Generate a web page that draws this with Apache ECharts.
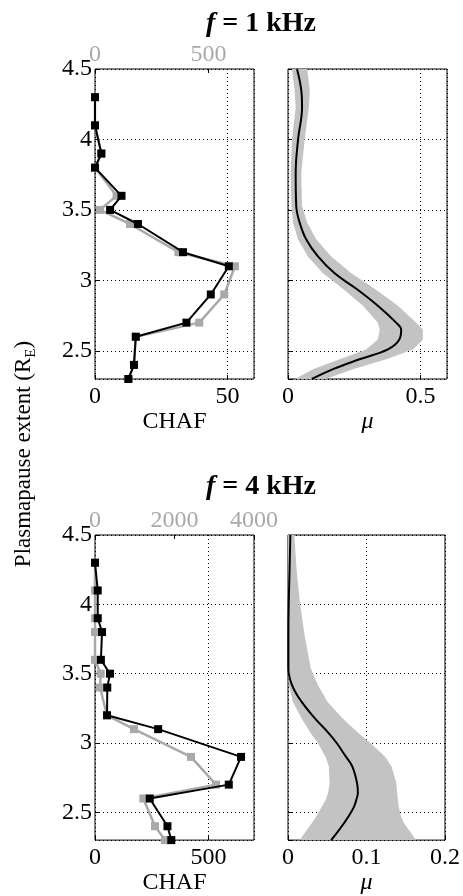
<!DOCTYPE html>
<html><head><meta charset="utf-8">
<script src="https://cdn.jsdelivr.net/npm/echarts@6/dist/echarts.min.js"></script>
<style>html,body{margin:0;padding:0;background:#fff}#c{width:463px;height:896px}</style>
</head><body><div id="c"></div>
<script>
// ---- data ----
const yLevels = [4.3, 4.1, 3.9, 3.8, 3.6, 3.5, 3.4, 3.2, 3.1, 2.9, 2.7, 2.6, 2.4, 2.3];
// f = 1 kHz
const chaf1Black = [0, 0, 2.4, 0, 10, 5.7, 16.2, 33.2, 50.5, 43.7, 34.5, 15.4, 14.7, 12.6];
const chaf1Gray  = [0, 0, 28, 0, 95, 22, 154, 367, 616, 569, 459, 179, 172, 147];
// f = 4 kHz
const chaf4Black = [0, 12, 12, 31, 26, 66, 54, 53, 278, 643, 589, 241, 319, 336];
const chaf4Gray  = [0, 0, 0, 0, 0, 143, 126, 302, 981, 2415, 3044, 1216, 1509, 1761];

const mu1Y    = [4.5, 4.35, 4.23, 4.0, 3.76, 3.53, 3.41, 3.29, 3.17, 3.05, 2.94, 2.82, 2.70, 2.65, 2.58, 2.51, 2.44, 2.37, 2.3];
const mu1Mean = [0.034, 0.050, 0.053, 0.038, 0.029, 0.031, 0.044, 0.069, 0.113, 0.176, 0.258, 0.339, 0.408, 0.427, 0.420, 0.377, 0.270, 0.170, 0.090];
const mu1Lo   = [0.015, 0.025, 0.029, 0.015, 0.010, 0.013, 0.019, 0.038, 0.075, 0.132, 0.207, 0.283, 0.339, 0.346, 0.339, 0.295, 0.195, 0.094, 0.027];
const mu1Hi   = [0.073, 0.082, 0.079, 0.063, 0.050, 0.053, 0.072, 0.107, 0.163, 0.239, 0.327, 0.415, 0.484, 0.509, 0.509, 0.471, 0.371, 0.245, 0.142];

const mu4Y    = [4.5, 4.25, 4.02, 3.78, 3.54, 3.42, 3.30, 3.18, 3.07, 3.0, 2.90, 2.83, 2.71, 2.64, 2.59, 2.54, 2.47, 2.42, 2.35, 2.3];
const mu4Mean = [0.003, 0.002, 0.001, 0.0005, 0.0005, 0.005, 0.017, 0.034, 0.052, 0.062, 0.074, 0.082, 0.088, 0.089, 0.087, 0.084, 0.077, 0.071, 0.062, 0.055];
const mu4Lo   = [0, 0, 0, 0, 0, 0.001, 0.006, 0.017, 0.029, 0.038, 0.048, 0.052, 0.053, 0.051, 0.048, 0.043, 0.036, 0.030, 0.021, 0.015];
const mu4Hi   = [0.008, 0.011, 0.015, 0.021, 0.029, 0.038, 0.050, 0.069, 0.090, 0.105, 0.124, 0.132, 0.138, 0.139, 0.140, 0.141, 0.144, 0.148, 0.157, 0.163];

// ---- chart ----
const serif = '"Liberation Serif", "Times New Roman", serif';
const FS = 24;
const GRAY = '#a9a9a9';
const BAND = '#c3c3c3';

const chart = echarts.init(document.getElementById('c'), null, {renderer: 'canvas'});

function pairs(xs, ys) { return ys.map((y, i) => [xs[i], y]); }
const plain = v => String(v);

function bandRender(ys, lo, hi) {
  return function (params, api) {
    const pts = [];
    for (let i = 0; i < ys.length; i++) pts.push(api.coord([lo[i], ys[i]]));
    for (let i = ys.length - 1; i >= 0; i--) pts.push(api.coord([hi[i], ys[i]]));
    return {type: 'polygon', shape: {points: pts}, style: {fill: BAND}};
  };
}

const gridCommon = {show: true, borderColor: '#000', borderWidth: 1, backgroundColor: '#fff', containLabel: false};
const grids = [
  Object.assign({left: 95, top: 69, width: 159, height: 310}, gridCommon),
  Object.assign({left: 288, top: 69, width: 159, height: 310}, gridCommon),
  Object.assign({left: 95, top: 535, width: 159, height: 310}, gridCommon),
  Object.assign({left: 288, top: 535, width: 159, height: 310}, gridCommon)
];

const dotted = {show: true, lineStyle: {color: '#000', type: [1, 3], width: 1}};
const tickIn = {show: true, inside: true, length: 4, lineStyle: {color: '#000', width: 1}};

function xBottom(gi, max, interval, name, italic, showMax, gap) {
  return {
    type: 'value', gridIndex: gi, position: 'bottom', min: 0, max: max, interval: interval,
    axisLine: {show: false}, axisTick: tickIn, splitLine: dotted,
    axisLabel: {color: '#000', fontFamily: serif, fontSize: FS, margin: 6, showMaxLabel: showMax, formatter: plain},
    name: name, nameLocation: 'middle', nameGap: gap,
    nameTextStyle: {color: '#000', fontFamily: serif, fontSize: FS, fontStyle: italic ? 'italic' : 'normal'}
  };
}
function xTop(gi, max, interval, showMax) {
  return {
    type: 'value', gridIndex: gi, position: 'top', min: 0, max: max, interval: interval,
    axisLine: {show: false}, axisTick: tickIn, splitLine: {show: false},
    axisLabel: {color: GRAY, fontFamily: serif, fontSize: FS, margin: 2, showMaxLabel: showMax, formatter: plain}
  };
}
function yAx(gi, labels) {
  return {
    type: 'value', gridIndex: gi, min: 2.3, max: 4.5,
    axisLine: {show: false}, axisTick: tickIn, splitLine: dotted,
    axisLabel: {show: labels, color: '#000', fontFamily: serif, fontSize: FS, margin: 3, showMinLabel: false, formatter: plain}
  };
}

const lineStyleBlack = {color: '#000', width: 2};
const titleRich = {
  i: {fontFamily: serif, fontSize: 28, fontWeight: 'bold', fontStyle: 'italic'},
  n: {fontFamily: serif, fontSize: 28, fontWeight: 'bold'}
};
const option = {
  animation: false,
  backgroundColor: '#fff',
  grid: grids,
  xAxis: [
    xBottom(0, 60, 50, 'CHAF', false, false, 31),
    xTop(0, 700, 500, false),
    xBottom(1, 0.6, 0.5, 'μ', true, false, 31),
    xBottom(2, 700, 500, 'CHAF', false, false, 29),
    xTop(2, 4000, 2000, true),
    xBottom(3, 0.2, 0.1, 'μ', true, true, 29)
  ],
  yAxis: [yAx(0, true), yAx(1, false), yAx(2, true), yAx(3, false)],
  series: [
    {type: 'line', xAxisIndex: 1, yAxisIndex: 0, data: pairs(chaf1Gray, yLevels),
     symbol: 'rect', symbolSize: 8, itemStyle: {color: GRAY}, lineStyle: {color: GRAY, width: 2.5}, z: 2},
    {type: 'line', xAxisIndex: 0, yAxisIndex: 0, data: pairs(chaf1Black, yLevels),
     symbol: 'rect', symbolSize: 8, itemStyle: {color: '#000'}, lineStyle: lineStyleBlack, z: 3},
    {type: 'custom', xAxisIndex: 2, yAxisIndex: 1, data: [[0.1, 3.4]], clip: true,
     renderItem: bandRender(mu1Y, mu1Lo, mu1Hi), z: 1},
    {type: 'line', xAxisIndex: 2, yAxisIndex: 1, data: pairs(mu1Mean, mu1Y), smooth: 0.4,
     symbol: 'none', lineStyle: lineStyleBlack, z: 3},
    {type: 'line', xAxisIndex: 4, yAxisIndex: 2, data: pairs(chaf4Gray, yLevels),
     symbol: 'rect', symbolSize: 8, itemStyle: {color: GRAY}, lineStyle: {color: GRAY, width: 2.5}, z: 2},
    {type: 'line', xAxisIndex: 3, yAxisIndex: 2, data: pairs(chaf4Black, yLevels),
     symbol: 'rect', symbolSize: 8, itemStyle: {color: '#000'}, lineStyle: lineStyleBlack, z: 3},
    {type: 'custom', xAxisIndex: 5, yAxisIndex: 3, data: [[0.1, 3.4]], clip: true,
     renderItem: bandRender(mu4Y, mu4Lo, mu4Hi), z: 1},
    {type: 'line', xAxisIndex: 5, yAxisIndex: 3, data: pairs(mu4Mean, mu4Y), smooth: 0.4,
     symbol: 'none', lineStyle: lineStyleBlack, z: 3}
  ],
  graphic: [
    {type: 'text', x: 261, y: 24, z: 10, style: {
      text: '{i|f}{n| = 1 kHz}', align: 'center', verticalAlign: 'middle', fill: '#000', rich: titleRich}},
    {type: 'text', x: 261, y: 487, z: 10, style: {
      text: '{i|f}{n| = 4 kHz}', align: 'center', verticalAlign: 'middle', fill: '#000', rich: titleRich}},
    {type: 'text', x: 24, y: 454, rotation: Math.PI / 2, z: 10, style: {
      text: '{n|Plasmapause extent (R}{s|E}{n|)}', align: 'center', verticalAlign: 'middle', fill: '#000',
      rich: {n: {fontFamily: serif, fontSize: 23, lineHeight: 30},
             s: {fontFamily: serif, fontSize: 15, lineHeight: 8, verticalAlign: 'bottom'}}}}
  ]
};
chart.setOption(option);
</script>
</body></html>
